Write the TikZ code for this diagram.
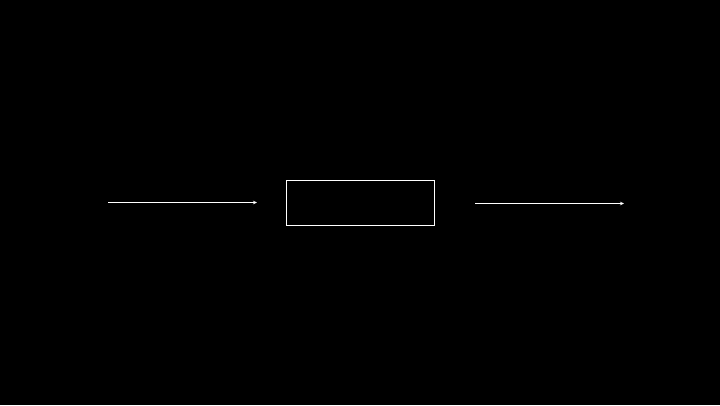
\documentclass[tikz,border=0pt]{standalone}
\usetikzlibrary{arrows.meta}
\begin{document}
\begin{tikzpicture}[x=1pt,y=-1pt,
  line/.style={white,line width=0.9pt},
  arr/.style={line,-{Stealth[length=4pt,width=3.5pt]}},
  boxnode/.style={draw=white,line width=0.9pt,minimum width=148pt,minimum height=45pt,inner sep=0pt}]
\fill[black] (0,0) rectangle (720,405);
\useasboundingbox (0,0) rectangle (720,405);
\node[boxnode] (box) at (360,202.5) {};
\coordinate (a1) at (108,202.5);
\coordinate (a2) at (257,202.5);
\coordinate (b1) at (475,203.5);
\coordinate (b2) at (624,203.5);
\draw[arr] (a1) -- (a2);
\draw[arr] (b1) -- (b2);
\end{tikzpicture}
\end{document}
